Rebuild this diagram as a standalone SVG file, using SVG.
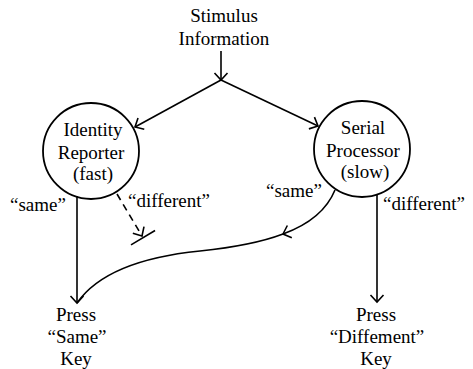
<svg xmlns="http://www.w3.org/2000/svg" width="473" height="369" viewBox="0 0 473 369">
  <style>
    text { font-family: "Liberation Serif", "Times New Roman", serif; font-size: 19px; fill: #000; }
    .c { text-anchor: middle; }
    .node { fill: none; stroke: #000; stroke-width: 1.8; }
    .edge { fill: none; stroke: #000; stroke-width: 1.6; }
    .dash { stroke-dasharray: 7 5; }
  </style>
  <defs>
    <marker id="arrow" markerUnits="userSpaceOnUse" markerWidth="20" markerHeight="20" viewBox="-10 -10 20 20" refX="0" refY="0" orient="auto" overflow="visible">
      <path d="M-7,-6.5 L0,0 L-7,6.5" fill="none" stroke="#000" stroke-width="1.6"/>
    </marker>
    <marker id="blocked" markerUnits="userSpaceOnUse" markerWidth="40" markerHeight="40" viewBox="-20 -20 40 40" refX="0" refY="0" orient="auto" overflow="visible">
      <path d="M-7,-6.5 L0,0 L-7,6.5 M2,-14 L2,14" fill="none" stroke="#000" stroke-width="1.6" stroke-dasharray="none"/>
    </marker>
  </defs>

  <g id="stimulus">
    <text class="c" x="224" y="22">Stimulus</text>
    <text class="c" x="224" y="45">Information</text>
  </g>

  <g id="identity-reporter">
    <circle class="node" cx="91" cy="151" r="48"/>
    <text class="c" x="93" y="136">Identity</text>
    <text class="c" x="91" y="159">Reporter</text>
    <text class="c" x="93" y="180">(fast)</text>
  </g>

  <g id="serial-processor">
    <circle class="node" cx="362" cy="149" r="48"/>
    <text class="c" x="363" y="134">Serial</text>
    <text class="c" x="363" y="157">Processor</text>
    <text class="c" x="365" y="178">(slow)</text>
  </g>

  <g id="press-same">
    <text class="c" x="76" y="321">Press</text>
    <text class="c" x="77" y="343">“Same”</text>
    <text class="c" x="76" y="365">Key</text>
  </g>

  <g id="press-different">
    <text class="c" x="376" y="321">Press</text>
    <text class="c" x="377" y="343">“Diffement”</text>
    <text class="c" x="376" y="365">Key</text>
  </g>

  <g id="connectors">
    <line class="edge" x1="221" y1="51" x2="221" y2="80" marker-end="url(#arrow)"/>
    <line class="edge" x1="221" y1="80" x2="135" y2="127" marker-end="url(#arrow)"/>
    <line class="edge" x1="221" y1="80" x2="318" y2="126" marker-end="url(#arrow)"/>
    <line class="edge" x1="77" y1="196" x2="77" y2="303" marker-end="url(#arrow)"/>
    <line class="edge dash" x1="117" y1="194" x2="142" y2="236" marker-end="url(#blocked)"/>
    <path class="edge" d="M335,190 C326,212 305,226 283,234" marker-end="url(#arrow)"/>
    <path class="edge" d="M283,234 C262,242 238,247 200,251 C150,256 100,270 77,303"/>
    <line class="edge" x1="377" y1="195" x2="377" y2="302" marker-end="url(#arrow)"/>
  </g>

  <g id="edge-labels">
    <text class="c" x="38" y="211">“same”</text>
    <text x="128" y="207">“different”</text>
    <text class="c" x="294" y="197">“same”</text>
    <text x="383" y="210">“different”</text>
  </g>
</svg>
